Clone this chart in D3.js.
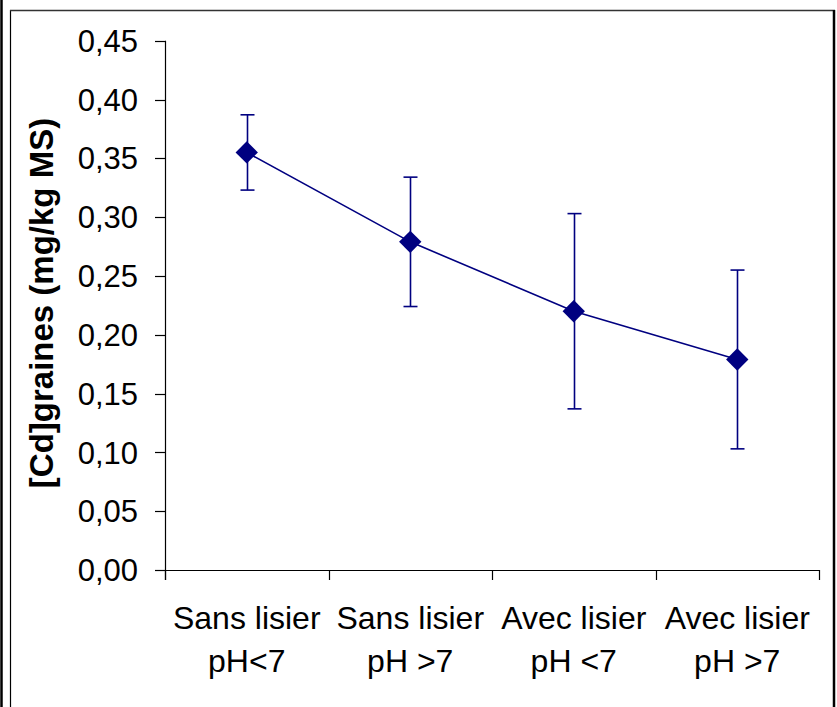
<!DOCTYPE html>
<html lang="fr">
<head>
  <meta charset="UTF-8">
  <title>[Cd]graines</title>
  <script src="https://d3js.org/d3.v7.min.js"></script>
  <style>
    body { margin: 0; background: #fff; }
    svg { display: block; font-family: Arial, 'Liberation Sans', sans-serif; }
    .tick-label { font-size: 31px; fill: #000; }
    .cat-label { font-size: 32px; fill: #000; }
    .axis-title { font-size: 33px; font-weight: bold; fill: #000; }
  </style>
</head>
<body>
  <svg width="837" height="707"></svg>
  <script>
    // data
    const categories = [
      ["Sans lisier", "pH<7"],
      ["Sans lisier", "pH >7"],
      ["Avec lisier", "pH <7"],
      ["Avec lisier", "pH >7"]
    ];
    const means = [0.355, 0.279, 0.220, 0.179];
    const errors = [0.032, 0.055, 0.083, 0.076];
    const yTicks = [0, 0.05, 0.10, 0.15, 0.20, 0.25, 0.30, 0.35, 0.40, 0.45];

    const svg = d3.select("svg");
    const navy = "#000080";

    // frame around the chart
    svg.append("line").attr("x1", 1.5).attr("x2", 1.5).attr("y1", 0).attr("y2", 707)
      .attr("stroke", "#000").attr("stroke-width", 2.5);
    svg.append("line").attr("x1", 10.5).attr("x2", 10.5).attr("y1", 10).attr("y2", 707)
      .attr("stroke", "#000").attr("stroke-width", 1.2);
    svg.append("line").attr("x1", 10).attr("x2", 835).attr("y1", 10.5).attr("y2", 10.5)
      .attr("stroke", "#333").attr("stroke-width", 1.5);
    svg.append("line").attr("x1", 834).attr("x2", 834).attr("y1", 10).attr("y2", 707)
      .attr("stroke", "#000").attr("stroke-width", 2.5);

    const x = d3.scaleBand()
      .domain(d3.range(categories.length))
      .range([165, 819])
      .padding(0);

    const y = d3.scaleLinear()
      .domain([0, 0.45])
      .range([570, 40.7]);

    const fmt = v => d3.format(".2f")(v).replace(".", ",");

    // y axis
    const yAxis = svg.append("g");
    yAxis.append("line")
      .attr("x1", 165.5).attr("x2", 165.5)
      .attr("y1", y(0.45)).attr("y2", 580)
      .attr("stroke", "#000").attr("stroke-width", 1.2);
    yTicks.forEach(t => {
      yAxis.append("line")
        .attr("x1", 155).attr("x2", 165.5)
        .attr("y1", Math.round(y(t)) + 0.5).attr("y2", Math.round(y(t)) + 0.5)
        .attr("stroke", "#000").attr("stroke-width", 1.2);
      yAxis.append("text")
        .attr("class", "tick-label")
        .attr("x", 138)
        .attr("y", y(t))
        .attr("dy", "0.36em")
        .attr("text-anchor", "end")
        .text(fmt(t));
    });

    // x axis
    const xAxis = svg.append("g");
    xAxis.append("line")
      .attr("x1", 165).attr("x2", 819.5)
      .attr("y1", 570.5).attr("y2", 570.5)
      .attr("stroke", "#000").attr("stroke-width", 1.2);
    const edges = categories.map((c, i) => x(i)).concat([x(categories.length - 1) + x.bandwidth()]);
    edges.forEach(e => {
      xAxis.append("line")
        .attr("x1", Math.round(e) + 0.5).attr("x2", Math.round(e) + 0.5)
        .attr("y1", 570).attr("y2", 580)
        .attr("stroke", "#000").attr("stroke-width", 1.2);
    });
    categories.forEach((c, i) => {
      const t = xAxis.append("text")
        .attr("class", "cat-label")
        .attr("text-anchor", "middle");
      c.forEach((line, j) => {
        t.append("tspan")
          .attr("x", x(i) + x.bandwidth() / 2)
          .attr("y", 629 + j * 43)
          .text(line);
      });
    });

    // axis title
    svg.append("text")
      .attr("class", "axis-title")
      .attr("transform", "translate(53,303) rotate(-90)")
      .attr("text-anchor", "middle")
      .text("[Cd]graines (mg/kg MS)");

    const cx = i => x(i) + x.bandwidth() / 2;

    // error bars
    const bars = svg.append("g").attr("stroke", navy).attr("stroke-width", 1.6);
    means.forEach((m, i) => {
      const px = Math.round(cx(i)) + 0.5;
      bars.append("line").attr("x1", px).attr("x2", px)
        .attr("y1", y(m + errors[i])).attr("y2", y(m - errors[i]));
      [m + errors[i], m - errors[i]].forEach(v => {
        bars.append("line").attr("x1", px - 7).attr("x2", px + 7)
          .attr("y1", y(v)).attr("y2", y(v));
      });
    });

    // line
    svg.append("path")
      .datum(means)
      .attr("fill", "none")
      .attr("stroke", navy)
      .attr("stroke-width", 1.6)
      .attr("d", d3.line().x((d, i) => cx(i)).y(d => y(d)));

    // diamond markers
    svg.append("g").selectAll("path")
      .data(means)
      .join("path")
      .attr("d", d3.symbol(d3.symbolSquare, 250))
      .attr("transform", (d, i) => `translate(${cx(i)},${y(d)}) rotate(45)`)
      .attr("fill", navy);
  </script>
</body>
</html>
